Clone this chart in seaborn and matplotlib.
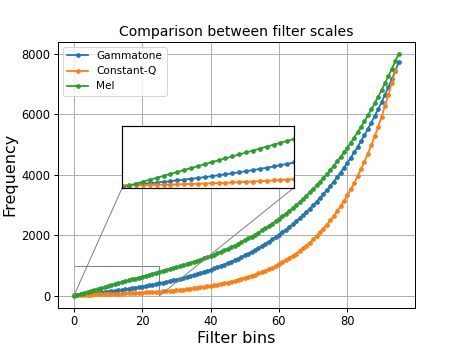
import matplotlib
matplotlib.use("Agg")
import matplotlib.pyplot as plt
import seaborn as sns
import pandas as pd
from mpl_toolkits.axes_grid1.inset_locator import mark_inset

gammatone = [
    30.0, 39.5, 49.3, 59.6, 70.1, 81.1, 92.5, 104.3, 116.5, 129.2,
    142.3, 155.9, 170.0, 184.7, 199.8, 215.6, 231.9, 248.8, 266.3, 284.5,
    303.3, 322.8, 343.1, 364.0, 385.8, 408.3, 431.7, 456.0, 481.1, 507.1,
    534.1, 562.1, 591.1, 621.2, 652.4, 684.8, 718.3, 753.0, 789.1, 826.4,
    865.1, 905.3, 946.9, 990.0, 1034.7, 1081.1, 1129.1, 1179.0, 1230.6, 1284.2,
    1339.7, 1397.2, 1456.9, 1518.8, 1582.9, 1649.4, 1718.3, 1789.7, 1863.8, 1940.5,
    2020.1, 2102.7, 2188.2, 2276.9, 2368.8, 2464.1, 2563.0, 2665.4, 2771.6, 2881.7,
    2995.8, 3114.1, 3236.8, 3363.9, 3495.7, 3632.4, 3774.1, 3920.9, 4073.2, 4231.1,
    4394.7, 4564.3, 4740.2, 4922.5, 5111.5, 5307.5, 5510.6, 5721.2, 5939.5, 6165.8,
    6400.5, 6643.7, 6895.8, 7157.3, 7428.3, 7709.2,
]

constant_q = [
    32.70, 34.65, 36.71, 38.89, 41.20, 43.65, 46.25, 49.00, 51.91, 55.00, 58.27, 61.74,
    65.41, 69.30, 73.42, 77.78, 82.41, 87.31, 92.50, 98.00, 103.83, 110.00, 116.54, 123.47,
    130.81, 138.59, 146.83, 155.56, 164.81, 174.61, 185.00, 196.00, 207.65, 220.00, 233.08, 246.94,
    261.63, 277.18, 293.66, 311.13, 329.63, 349.23, 369.99, 392.00, 415.30, 440.00, 466.16, 493.88,
    523.25, 554.37, 587.33, 622.25, 659.26, 698.46, 739.99, 783.99, 830.61, 880.00, 932.33, 987.77,
    1046.5, 1108.7, 1174.7, 1244.5, 1318.5, 1396.9, 1480.0, 1568.0, 1661.2, 1760.0, 1864.7, 1975.5,
    2093.0, 2217.5, 2349.3, 2489.0, 2637.0, 2793.8, 2960.0, 3136.0, 3322.4, 3520.0, 3729.3, 3951.1,
    4186.0, 4434.9, 4698.6, 4978.0, 5274.0, 5587.7, 5919.9, 6271.9, 6644.9, 7040.0, 7458.6,
]

mel = [
    0.0, 31.8, 63.5, 95.3, 127.0, 158.8, 190.5, 222.3, 254.0, 285.8,
    317.5, 349.3, 381.0, 412.8, 444.5, 476.3, 508.0, 539.8, 571.5, 603.3,
    635.0, 666.8, 698.5, 730.3, 762.0, 793.8, 825.5, 857.3, 889.0, 920.8,
    952.5, 984.3, 1016.7, 1050.5, 1085.5, 1121.6, 1159.0, 1197.5, 1237.4, 1278.6,
    1321.1, 1365.1, 1410.6, 1457.5, 1506.0, 1556.2, 1608.0, 1661.5, 1716.8, 1773.9,
    1833.0, 1894.0, 1957.1, 2022.2, 2089.5, 2159.1, 2230.9, 2305.2, 2381.9, 2461.2,
    2543.1, 2627.8, 2715.3, 2805.6, 2899.0, 2995.5, 3095.2, 3198.3, 3304.7, 3414.7,
    3528.4, 3645.8, 3767.2, 3892.6, 4022.2, 4156.1, 4294.4, 4437.3, 4585.1, 4737.7,
    4895.4, 5058.3, 5226.7, 5400.7, 5580.5, 5766.2, 5958.2, 6156.5, 6361.4, 6573.2,
    6792.0, 7018.0, 7251.7, 7493.0, 7742.5, 8000.0,
]

series_names = ["Gammatone", "Constant-Q", "Mel"]
series_values = [gammatone, constant_q, mel]
colors = ["#1f77b4", "#ff7f0e", "#2ca02c"]
x_ticks = [0, 20, 40, 60, 80]
y_ticks = [0, 2000, 4000, 6000, 8000]

frames = []
for name, vals in zip(series_names, series_values):
    frames.append(pd.DataFrame({"bin": list(range(len(vals))), "freq": vals, "scale": name}))
df = pd.concat(frames, ignore_index=True)

DPI = 72
fig, ax = plt.subplots(figsize=(461 / DPI, 346 / DPI), dpi=DPI)

def draw(axis, legend):
    for name, col in zip(series_names, colors):
        d = df[df["scale"] == name]
        sns.lineplot(data=d, x="bin", y="freq", ax=axis, color=col, marker=".",
                     markersize=7, markeredgecolor=col, markeredgewidth=1.2,
                     linewidth=1.8, label=name if legend else None, legend=legend)

draw(ax, True)
ax.grid(True, linewidth=1.0)
ax.set_xticks(x_ticks)
ax.set_yticks(y_ticks)
ax.tick_params(labelsize=11.5, length=4, width=1)
for s in ax.spines.values():
    s.set_linewidth(1.0)
ax.set_title("Comparison between filter scales", fontsize=14)
ax.set_xlabel("Filter bins", fontsize=16, labelpad=3)
ax.set_ylabel("Frequency", fontsize=16, labelpad=4)
ax.legend(loc="upper left", fontsize=10.5)

axins = ax.inset_axes([0.181, 0.452, 0.481, 0.23])
draw(axins, False)
axins.set_xlim(0, 25)
axins.set_ylim(0, 1000)
axins.set_xticks([])
axins.set_yticks([])
axins.set_xlabel("")
axins.set_ylabel("")
for s in axins.spines.values():
    s.set_linewidth(1.2)
mark_inset(ax, axins, loc1=3, loc2=4, fc="none", ec="0.5")

fig.savefig("out.png", dpi=DPI)
